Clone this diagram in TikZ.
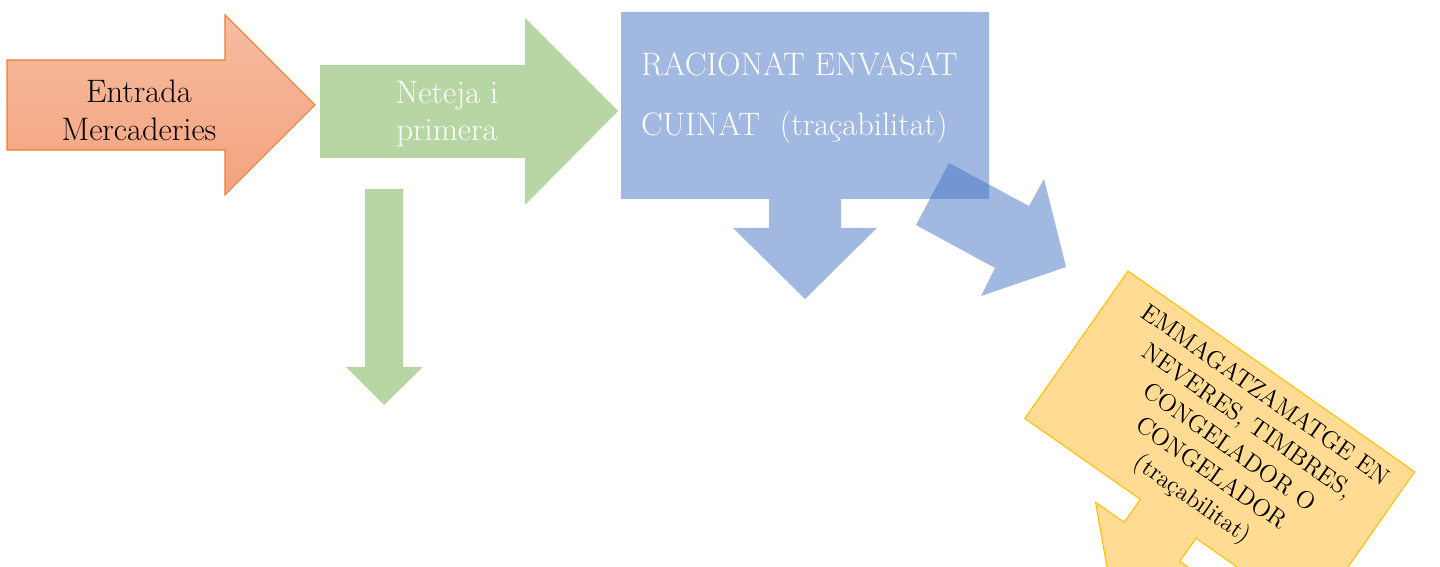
\documentclass[tikz,border=0pt]{standalone}
\usepackage{tikz}
\usetikzlibrary{calc}

\definecolor{orangeline}{RGB}{237,125,49}
\definecolor{orangetop}{RGB}{246,188,160}
\definecolor{orangebot}{RGB}{244,163,126}
\definecolor{greenfill}{RGB}{184,214,164}
\definecolor{bluefill}{RGB}{68,114,196}
\definecolor{yellowline}{RGB}{255,192,0}
\definecolor{yellowtop}{RGB}{255,219,147}

\begin{document}
\begin{tikzpicture}[x=0.02cm,y=-0.02cm,
          every node/.style={inner sep=0pt,outer sep=0pt},
          label/.style={font=\fontsize{18.5}{21.5}\selectfont,align=center},
          orangearrow/.style={draw=orangeline,line width=0.6pt,top color=orangetop,bottom color=orangebot},
          greenarrow/.style={fill=greenfill},
          bluearrow/.style={fill=bluefill,fill opacity=0.5},
          yellowarrow/.style={draw=yellowline,line width=0.6pt,fill=yellowtop}]

                \useasboundingbox (0,0) rectangle (1440,567);
                \clip (0,0) rectangle (1440,567);

                % entrada
                \draw[orangearrow] (7,60) -- (225,60) -- (225,15) -- (315,105) -- (225,195) -- (225,150) -- (7,150) -- cycle;
                \node[label] (entrada) at (139,110) {Entrada\\Mercaderies};

                % neteja
                \fill[greenarrow] (320,65) -- (525,65) -- (525,18) -- (618,111) -- (525,205) -- (525,158) -- (320,158) -- cycle;
                \fill[greenarrow] (365,189) -- (403,189) -- (403,367) -- (423,367) -- (384,405) -- (346,367) -- (365,367) -- cycle;
                \node[label,text=white] (neteja) at (447,114) {Neteja i\\primera};

                % racionat
                \fill[bluearrow] (621,12) -- (989,12) -- (989,199) -- (841,199) -- (841,228) -- (877,228) -- (805,299)
                      -- (733,228) -- (769,228) -- (769,199) -- (621,199) -- cycle;
                \fill[bluearrow] (949,163) -- (1029,206) -- (1044,179) -- (1066,267) -- (981,296) -- (995,268) -- (916,225) -- cycle;
                \node[label,font=\fontsize{18.5}{34}\selectfont,align=left,text=white,anchor=north west] (racionat) at (641,53)
                      {RACIONAT ENVASAT\\CUINAT~~(traçabilitat)};

                % emmagatzematge
                \begin{scope}[shift={(1128,271)},rotate=-35]
                  \draw[yellowarrow] (0,0) -- (350,0) -- (350,180) -- (209,180) -- (209,208) -- (244,208) -- (175,277)
                        -- (106,208) -- (141,208) -- (141,180) -- (0,180) -- cycle;
                  \node[label,font=\fontsize{14}{18}\selectfont,transform shape] (emmagatzematge) at (184,88)
                        {EMMAGATZAMATGE EN\\NEVERES, TIMBRES,\\CONGELADOR O\\CONGELADOR\\(traçabilitat)};
                \end{scope}
              \end{tikzpicture}
\end{document}
